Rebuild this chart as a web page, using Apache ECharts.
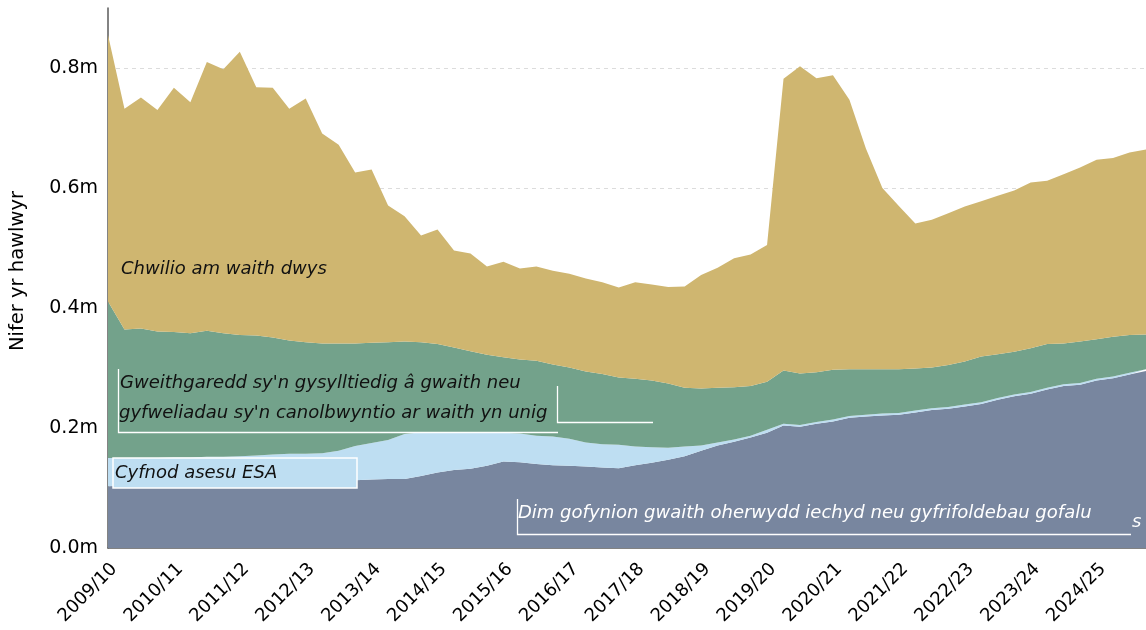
<!DOCTYPE html>
<html>
<head>
<meta charset="utf-8">
<script src="https://cdn.jsdelivr.net/npm/echarts@6/dist/echarts.min.js"></script>
<style>
html,body{margin:0;padding:0;background:#fff;}
#chart{width:1146px;height:630px;}
</style>
</head>
<body>
<div id="chart"></div>
<script>
// Financial years (tick labels), each with four quarterly points
const years = ['2009/10','2010/11','2011/12','2012/13','2013/14','2014/15','2015/16','2016/17',
  '2017/18','2018/19','2019/20','2020/21','2021/22','2022/23','2023/24','2024/25'];
const quarters = ['Q1','Q2','Q3','Q4'];
const categories = [];
years.forEach(y => quarters.forEach(q => categories.push(y + ' ' + q)));

// Series values (millions of claimants), quarterly
const noWorkReq = [0.103,0.104,0.105,0.105,0.106,0.107,0.107,0.108,0.108,0.109,0.109,0.110,0.110,0.111,0.112,0.113,
  0.114,0.115,0.115,0.120,0.126,0.130,0.132,0.137,0.144,0.143,0.140,0.138,0.137,0.136,0.134,0.133,
  0.138,0.142,0.147,0.153,0.162,0.171,0.177,0.184,0.192,0.204,0.202,0.207,0.211,0.217,0.219,0.221,
  0.222,0.226,0.230,0.232,0.236,0.240,0.247,0.253,0.257,0.264,0.270,0.272,0.279,0.283,0.289,0.295];
const esaAssessment = [0.047,0.046,0.045,0.045,0.045,0.044,0.045,0.044,0.045,0.045,0.047,0.047,0.047,0.047,0.050,0.057,
  0.061,0.065,0.075,0.073,0.067,0.063,0.061,0.056,0.048,0.048,0.047,0.048,0.045,0.040,0.039,0.039,
  0.031,0.026,0.020,0.016,0.009,0.005,0.004,0.003,0.005,0.003,0.003,0.003,0.003,0.003,0.003,0.003,
  0.003,0.003,0.003,0.003,0.003,0.003,0.003,0.003,0.003,0.003,0.003,0.003,0.003,0.003,0.003,0.003];
const workPrep = [0.261,0.214,0.216,0.211,0.209,0.207,0.210,0.206,0.202,0.200,0.195,0.189,0.186,0.183,0.179,0.171,
  0.167,0.163,0.154,0.150,0.147,0.141,0.135,0.129,0.126,0.123,0.125,0.120,0.119,0.118,0.117,0.112,
  0.113,0.111,0.107,0.098,0.095,0.091,0.087,0.083,0.080,0.089,0.086,0.083,0.083,0.078,0.076,0.074,
  0.073,0.070,0.068,0.070,0.072,0.076,0.073,0.071,0.073,0.073,0.068,0.069,0.066,0.066,0.063,0.058];
const intensiveSearch = [0.444,0.368,0.385,0.369,0.407,0.385,0.448,0.440,0.472,0.414,0.416,0.386,0.406,0.350,0.331,0.285,
  0.289,0.228,0.209,0.178,0.191,0.162,0.163,0.147,0.159,0.152,0.157,0.156,0.156,0.155,0.153,0.150,
  0.161,0.160,0.161,0.169,0.189,0.200,0.215,0.219,0.228,0.486,0.512,0.490,0.491,0.449,0.368,0.302,
  0.272,0.242,0.246,0.253,0.258,0.259,0.264,0.269,0.276,0.272,0.282,0.290,0.299,0.298,0.304,0.308];
const yTicks = [0, 0.2, 0.4, 0.6, 0.8];

const seriesNames = ['Dim gofynion gwaith oherwydd iechyd neu gyfrifoldebau gofalu',
  'Cyfnod asesu ESA',
  "Gweithgaredd sy'n gysylltiedig â gwaith neu gyfweliadau sy'n canolbwyntio ar waith yn unig",
  'Chwilio am waith dwys'];
const seriesData = [noWorkReq, esaAssessment, workPrep, intensiveSearch];
const colors = ['#78869F', '#BEDEF2', '#73A28B', '#CFB670'];

const chart = echarts.init(document.getElementById('chart'), null, {renderer: 'canvas'});
const annFont = 'italic 18px "DejaVu Sans", sans-serif';
const white = '#ffffff';
function label(text, x, y, fill) {
  return {type: 'text', x: x, y: y, z: 101,
    style: {text: text, fill: fill, font: annFont, verticalAlign: 'middle', align: 'left'}};
}
chart.setOption({
  animation: false,
  backgroundColor: '#ffffff',
  grid: {left: 108, right: 0, top: 8, bottom: 82, containLabel: false},
  xAxis: {
    type: 'category',
    data: categories,
    boundaryGap: false,
    axisLine: {show: true, lineStyle: {color: '#5a5a5a', width: 1.5}},
    axisTick: {show: false},
    axisLabel: {
      interval: 3, rotate: 45, margin: 12, verticalAlign: 'top',
      color: '#000', fontFamily: 'DejaVu Sans', fontSize: 18,
      formatter: v => v.split(' ')[0]
    },
    splitLine: {show: false}
  },
  yAxis: {
    type: 'value',
    min: 0, max: 0.9, interval: 0.2,
    name: 'Nifer yr hawlwyr',
    nameLocation: 'middle', nameRotate: 90, nameGap: 80,
    nameTextStyle: {color: '#000', fontFamily: 'DejaVu Sans', fontSize: 19.5, padding: [0, 0, 0, 14]},
    axisLine: {show: true, lineStyle: {color: '#5a5a5a', width: 1.5}},
    axisTick: {show: false},
    axisLabel: {
      margin: 10, color: '#000', fontFamily: 'DejaVu Sans', fontSize: 19,
      showMaxLabel: false,
      formatter: v => yTicks.some(t => Math.abs(t - v) < 1e-9) ? v.toFixed(1) + 'm' : ''
    },
    splitLine: {show: true, showMinLine: false, showMaxLine: false, lineStyle: {color: '#dcdcdc', type: [4, 4], width: 1}}
  },
  series: seriesData.map((d, i) => ({
    name: seriesNames[i],
    type: 'line',
    stack: 'total',
    data: d,
    symbol: 'none',
    lineStyle: {width: 0},
    areaStyle: {color: colors[i], opacity: 1},
    itemStyle: {color: colors[i]},
    z: 2
  })),
  graphic: [
    label('Chwilio am waith dwys', 121, 269, '#111'),
    label("Gweithgaredd sy'n gysylltiedig â gwaith neu", 120, 383, '#111'),
    label("gyfweliadau sy'n canolbwyntio ar waith yn unig", 119, 413, '#111'),
    {type: 'polyline', z: 100, shape: {points: [[118.5, 369], [118.5, 432.5], [558, 432.5]]}, style: {stroke: white, lineWidth: 1.3, fill: null}},
    {type: 'polyline', z: 100, shape: {points: [[557.5, 386], [557.5, 422.5], [653, 422.5]]}, style: {stroke: white, lineWidth: 1.3, fill: null}},
    {type: 'rect', z: 100, shape: {x: 113, y: 458, width: 244, height: 30}, style: {fill: '#BEDEF2', stroke: white, lineWidth: 1.5}},
    label('Cyfnod asesu ESA', 115, 473, '#111'),
    label('Dim gofynion gwaith oherwydd iechyd neu gyfrifoldebau gofalu', 518, 513, white),
    {type: 'polyline', z: 100, shape: {points: [[517.5, 499], [517.5, 534.5], [1131, 534.5]]}, style: {stroke: white, lineWidth: 1.3, fill: null}},
    label('s', 1132, 522, white)
  ]
});
</script>
</body>
</html>
